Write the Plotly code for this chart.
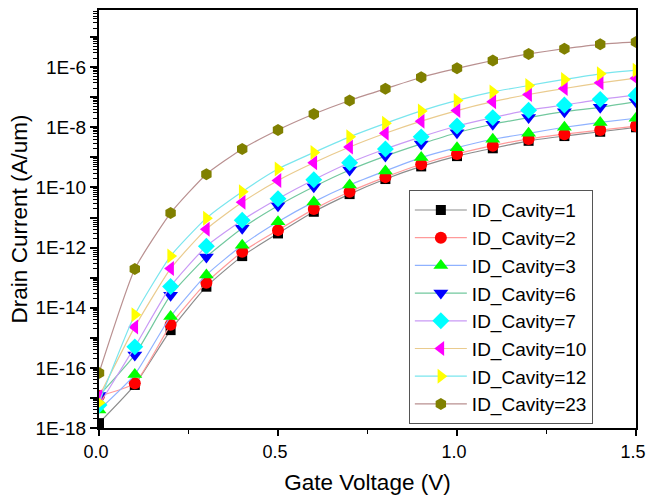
import plotly.graph_objects as go

# Gate voltage sweep (V)
gate_voltage = [0.0, 0.1, 0.2, 0.3, 0.4, 0.5, 0.6, 0.7, 0.8, 0.9, 1.0, 1.1, 1.2, 1.3, 1.4, 1.5]

# Drain current (A/um) for each cavity length
id_cavity_1 = [1.45e-18, 2.7e-17, 1.8e-15, 5.0e-14, 5.2e-13, 2.95e-12, 1.55e-11, 6.0e-11,
               1.9e-10, 5.0e-10, 1.1e-9, 2.0e-9, 3.55e-9, 5.1e-9, 7.1e-9, 1.0e-8]
id_cavity_2 = [1.15e-17, 3.1e-17, 2.7e-15, 6.8e-14, 7.2e-13, 3.8e-12, 1.9e-11, 7.2e-11,
               2.2e-10, 5.9e-10, 1.3e-9, 2.45e-9, 4.1e-9, 5.9e-9, 8.1e-9, 1.1e-8]
id_cavity_3 = [4.0e-18, 6.0e-17, 5.1e-15, 1.23e-13, 1.2e-12, 7.2e-12, 3.3e-11, 1.2e-10,
               3.55e-10, 9.8e-10, 2.1e-9, 4.0e-9, 6.3e-9, 1.0e-8, 1.45e-8, 2.0e-8]
id_cavity_6 = [1.2e-17, 2.7e-16, 2.6e-14, 4.9e-13, 4.4e-12, 2.45e-11, 1.05e-10, 3.8e-10,
               1.1e-9, 2.8e-9, 6.6e-9, 1.26e-8, 2.1e-8, 3.3e-8, 4.6e-8, 7.1e-8]
id_cavity_7 = [5.8e-18, 5.0e-16, 5.1e-14, 1.1e-12, 8.1e-12, 4.2e-11, 1.8e-10, 6.6e-10,
               1.9e-9, 4.8e-9, 1.1e-8, 2.1e-8, 3.7e-8, 5.5e-8, 8.5e-8, 1.17e-7]
id_cavity_10 = [1.1e-17, 2.3e-15, 2.0e-13, 4.1e-12, 3.2e-11, 1.7e-10, 6.6e-10, 2.2e-9,
                6.3e-9, 1.6e-8, 3.6e-8, 7.1e-8, 1.23e-7, 1.95e-7, 3.0e-7, 4.3e-7]
id_cavity_12 = [6.9e-18, 5.8e-15, 5.2e-13, 9.5e-12, 7.2e-11, 4.1e-10, 1.45e-9, 4.8e-9,
                1.35e-8, 3.5e-8, 7.8e-8, 1.5e-7, 2.45e-7, 3.9e-7, 6.0e-7, 7.9e-7]
id_cavity_23 = [6.8e-17, 1.95e-13, 1.4e-11, 2.75e-10, 1.9e-9, 8.1e-9, 2.75e-8, 7.8e-8,
                1.9e-7, 4.6e-7, 9.1e-7, 1.66e-6, 2.75e-6, 4.1e-6, 5.75e-6, 6.9e-6]

series_names = ["ID_Cavity=1", "ID_Cavity=2", "ID_Cavity=3", "ID_Cavity=6",
                "ID_Cavity=7", "ID_Cavity=10", "ID_Cavity=12", "ID_Cavity=23"]
series_values = [id_cavity_1, id_cavity_2, id_cavity_3, id_cavity_6,
                 id_cavity_7, id_cavity_10, id_cavity_12, id_cavity_23]

marker_colors = ["#000000", "#FF0000", "#00FF00", "#0000FF",
                 "#00FFFF", "#FF00FF", "#FFFF00", "#808000"]
line_colors = ["#8C8C8C", "#FF9A9A", "#8FB2FF", "#72C89E",
               "#C99AF5", "#EACB8E", "#7AE6EE", "#B99090"]
symbols = ["square", "circle", "triangle-up", "triangle-down",
           "diamond", "triangle-left", "triangle-right", "hexagon"]
sizes = [10, 12, 13, 13, 13, 13, 13, 12]

# y-axis decade ticks, labelled every second decade
decade_exponents = list(range(-18, -4))
y_tickvals = [10.0 ** e for e in decade_exponents]
y_ticktext = [f"1E{e}" if e % 2 == 0 else "" for e in decade_exponents]

FONT = "Liberation Sans, Arial, sans-serif"

fig = go.Figure()
for name, vals, mc, lc, sym, sz in zip(series_names, series_values, marker_colors,
                                       line_colors, symbols, sizes):
    fig.add_trace(go.Scatter(
        x=gate_voltage, y=vals, name=name, mode="lines+markers",
        line=dict(color=lc, width=1.2, shape="spline", smoothing=0.5),
        marker=dict(symbol=sym, color=mc, size=sz, line=dict(width=0)),
    ))

fig.update_layout(
    width=647, height=495,
    margin=dict(l=99, r=11, t=10, b=67),
    paper_bgcolor="white", plot_bgcolor="white",
    font=dict(family=FONT, color="black", size=19),
    showlegend=True,
    legend=dict(
        x=0.577, y=0.569, xanchor="left", yanchor="top",
        bgcolor="white", bordercolor="#555555", borderwidth=1,
        font=dict(family=FONT, size=19, color="black"),
        tracegroupgap=0, itemwidth=52,
    ),
    xaxis=dict(
        range=[0, 1.5], tickmode="linear", tick0=0, dtick=0.5, tickformat=".1f",
        ticks="outside", ticklen=6, tickwidth=1.5, tickcolor="black",
        minor=dict(dtick=0.25, ticks="outside", ticklen=4, tickwidth=1.2, tickcolor="black"),
        showline=True, linecolor="black", linewidth=2, mirror=True,
        showgrid=False, zeroline=False, ticklabeloverflow="allow", automargin=False,
        ticklabelshift=-3,
        title=dict(text="Gate Voltage (V)", font=dict(size=22.5), standoff=18),
        tickfont=dict(size=18),
    ),
    yaxis=dict(
        type="log", range=[-18, -4.1],
        tickmode="array", tickvals=y_tickvals, ticktext=y_ticktext,
        ticks="outside", ticklen=7, tickwidth=1.5, tickcolor="black",
        minor=dict(dtick="D1", ticks="outside", ticklen=4, tickwidth=1, tickcolor="black"),
        showline=True, linecolor="black", linewidth=2, mirror=True,
        showgrid=False, zeroline=False, automargin=False,
        title=dict(text="Drain Current (A/um)", font=dict(size=22.5), standoff=2),
        tickfont=dict(size=19),
    ),
    # opposite-side tick scales (no labels)
    xaxis2=dict(
        overlaying="x", side="top", range=[0, 1.5], automargin=False,
        tickmode="linear", tick0=0, dtick=0.3,
        ticks="inside", ticklen=6, tickwidth=1.5, tickcolor="black",
        minor=dict(dtick=0.15, ticks="inside", ticklen=4, tickwidth=1.2, tickcolor="black"),
        showticklabels=False, showgrid=False, zeroline=False, showline=False,
    ),
    yaxis2=dict(
        overlaying="y", side="right", range=[0, 10], automargin=False,
        tickmode="linear", tick0=0, dtick=2,
        ticks="inside", ticklen=7, tickwidth=1.5, tickcolor="black",
        minor=dict(dtick=1, ticks="inside", ticklen=4, tickwidth=1.2, tickcolor="black"),
        showticklabels=False, showgrid=False, zeroline=False, showline=False,
    ),
)

fig.write_html("out.html")
